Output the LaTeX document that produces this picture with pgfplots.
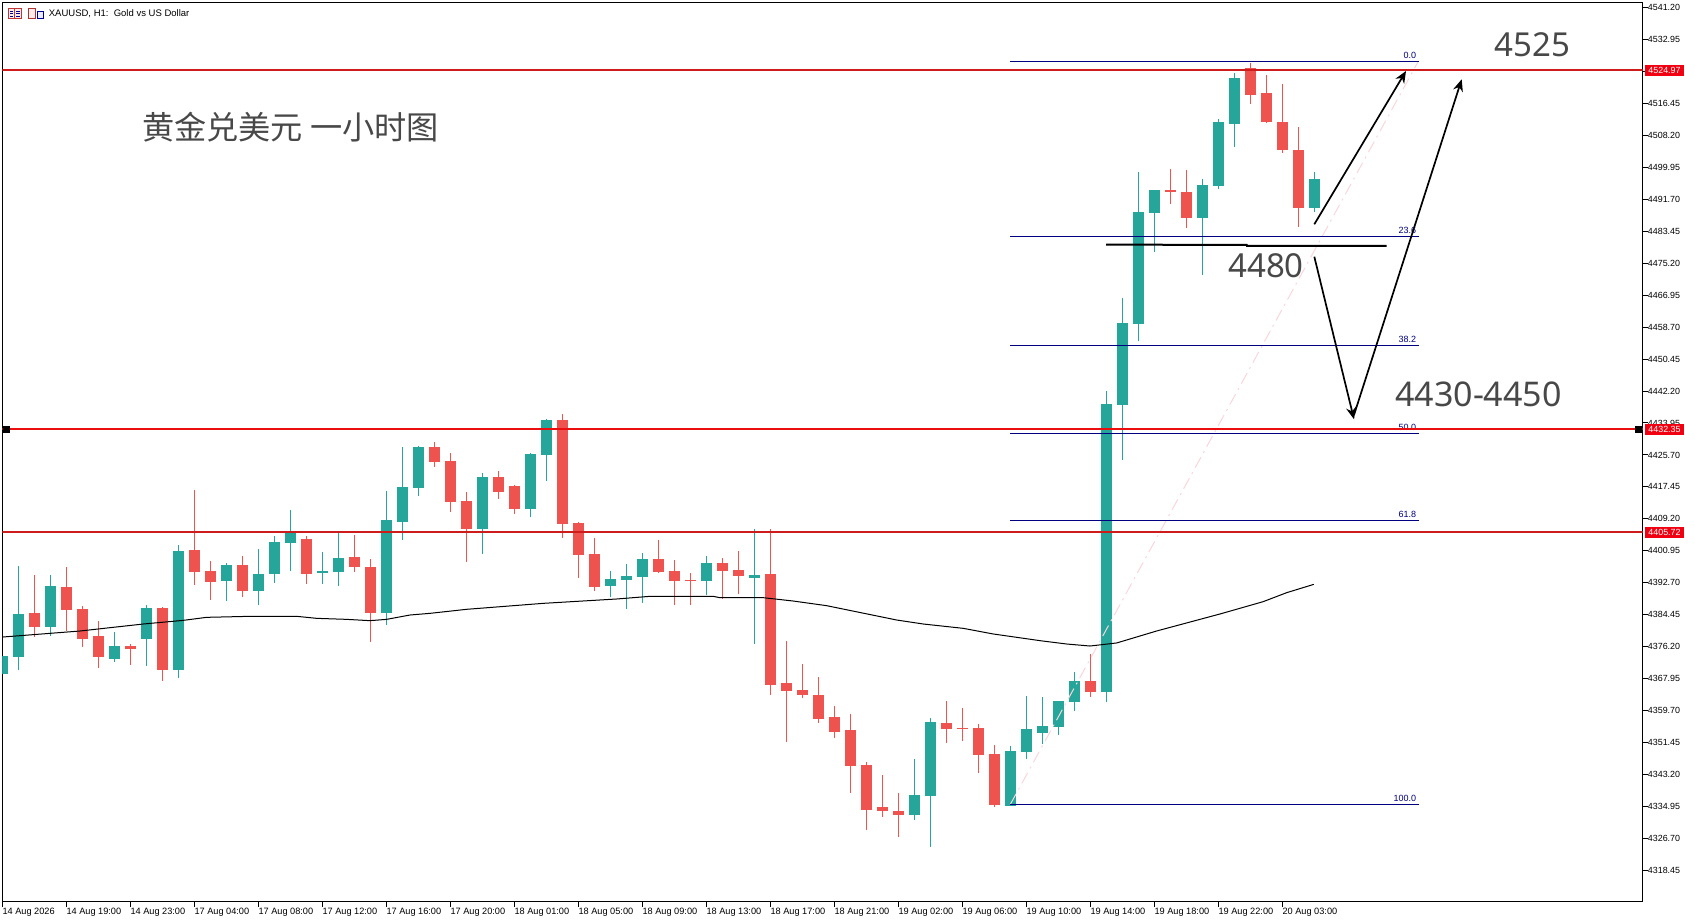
\documentclass[border=0pt]{standalone}
\usepackage{fontspec}
\usepackage{pgfplots}
\usepackage{pgfplotstable}
\pgfplotsset{compat=1.18}
\usetikzlibrary{arrows.meta}
\setmainfont{Liberation Sans}
\newfontfamily\cjk{Noto Sans CJK SC}
\newfontfamily\annot{Noto Sans}
\definecolor{upc}{HTML}{26A69A}
\definecolor{dnc}{HTML}{EF5350}
\definecolor{fibc}{HTML}{000080}
\definecolor{linered}{HTML}{CE1C1C}
\definecolor{linered2}{HTML}{EA0E0E}
\definecolor{boxred}{HTML}{F00010}
\definecolor{annotc}{HTML}{484848}
\definecolor{trendc}{HTML}{F7D6DC}

\pgfplotstableread{
i l bl bh h
0 4369.27 4369.27 4373.83 4373.83
1 4370.22 4373.66 4384.67 4397.05
3 4379.08 4381.40 4391.89 4394.73
7 4372.28 4373.14 4376.41 4379.94
9 4371.25 4378.30 4386.22 4386.99
11 4368.16 4370.31 4400.92 4402.47
14 4388.02 4393.27 4397.31 4397.83
16 4387.00 4390.69 4394.99 4401.44
17 4392.75 4395.07 4403.24 4404.79
18 4395.76 4403.07 4405.82 4411.50
20 4392.41 4395.33 4395.76 4400.66
21 4391.89 4395.59 4399.12 4405.82
24 4381.83 4385.01 4408.92 4416.40
25 4403.76 4408.49 4417.43 4427.75
26 4415.20 4417.18 4427.75 4428.01
30 4400.15 4406.68 4420.01 4420.96
33 4409.61 4411.84 4425.95 4426.21
34 4418.98 4425.78 4434.72 4434.98
38 4389.05 4391.98 4393.70 4395.76
39 4385.96 4393.53 4394.47 4397.57
40 4387.51 4394.30 4398.86 4400.41
44 4389.57 4393.27 4397.83 4399.63
47 4376.93 4394.04 4394.73 4406.60
57 4331.52 4332.81 4337.97 4347.26
58 4324.55 4337.71 4356.80 4357.83
63 4335.22 4335.22 4349.32 4350.61
64 4347.26 4349.06 4355.00 4363.51
65 4351.13 4353.97 4355.77 4363.25
66 4353.45 4355.51 4362.22 4362.22
67 4359.64 4361.96 4367.38 4369.70
69 4361.96 4364.54 4438.85 4442.20
70 4424.40 4438.68 4459.75 4466.20
71 4455.02 4459.58 4488.39 4498.71
72 4478.06 4488.21 4494.06 4494.06
75 4472.13 4486.84 4495.35 4496.90
76 4494.32 4495.09 4511.60 4512.37
77 4505.15 4511.09 4522.96 4524.25
82 4488.39 4489.42 4496.90 4498.71
}\upcandles

\pgfplotstableread{
i l bl bh h
2 4378.82 4381.40 4384.84 4394.73
4 4380.28 4385.79 4391.63 4396.79
5 4376.24 4378.30 4385.96 4386.73
6 4370.74 4373.66 4379.00 4382.86
8 4371.51 4375.64 4376.41 4376.93
10 4367.38 4370.31 4386.22 4386.56
12 4392.15 4395.59 4401.18 4416.66
13 4388.28 4393.01 4395.76 4398.26
15 4389.05 4390.69 4397.31 4399.63
19 4392.41 4395.07 4404.02 4404.79
22 4395.59 4396.88 4399.37 4405.05
23 4377.44 4385.01 4396.79 4398.86
27 4422.68 4423.97 4427.75 4429.04
28 4410.98 4413.65 4424.14 4426.21
29 4398.08 4406.68 4413.82 4416.06
31 4414.34 4416.23 4420.01 4421.56
32 4410.47 4411.84 4417.69 4417.95
35 4404.28 4407.97 4434.72 4436.27
36 4393.96 4399.98 4408.15 4408.41
37 4390.60 4391.72 4400.15 4404.28
41 4395.25 4395.50 4398.86 4403.76
42 4386.99 4393.27 4395.76 4398.60
43 4386.99 4393.27 4393.44 4395.25
45 4388.54 4395.85 4397.83 4399.12
46 4389.83 4394.56 4396.02 4400.92
48 4363.86 4366.44 4394.99 4406.60
49 4351.64 4364.89 4366.87 4377.62
50 4362.99 4363.77 4365.06 4371.77
51 4356.55 4357.58 4363.77 4368.41
52 4352.68 4354.23 4358.09 4360.93
53 4338.49 4345.45 4354.74 4358.87
54 4328.94 4334.10 4345.71 4346.48
55 4332.29 4333.84 4334.87 4343.13
56 4327.13 4332.81 4333.84 4338.49
59 4351.47 4355.00 4356.55 4362.22
60 4351.90 4355.08 4355.26 4360.42
61 4343.65 4348.29 4355.26 4356.29
62 4334.87 4335.39 4348.55 4350.87
68 4363.25 4364.54 4367.38 4374.35
73 4490.45 4493.63 4493.97 4499.48
74 4484.26 4486.84 4493.55 4499.22
78 4516.25 4518.57 4525.54 4526.83
79 4511.34 4511.60 4519.09 4523.73
80 4503.61 4504.38 4511.60 4521.41
81 4484.52 4489.42 4504.38 4510.33
}\downcandles

\pgfplotstableread{
x y
0.02 4378.73
4.85 4380.28
8.81 4382.09
11.31 4383.03
12.77 4383.81
15.48 4384.07
18.40 4384.07
19.65 4383.55
21.52 4383.29
22.98 4382.95
24.02 4383.29
25.48 4384.41
26.73 4384.84
29.02 4385.88
33.81 4387.42
38.39 4388.54
40.48 4389.23
44.43 4389.23
44.85 4388.88
47.56 4388.88
49.43 4388.02
51.52 4386.82
55.90 4383.12
57.56 4382.09
60.06 4380.97
61.94 4379.51
64.86 4377.79
66.52 4376.93
67.98 4376.41
69.65 4377.20
72.14 4380.28
76.10 4384.67
78.80 4387.85
80.27 4390.17
81.97 4392.32
}\matable

\newcommand{\candles}[2]{%
  \addplot[forget plot, draw=none, no markers, error bars/.cd, y dir=plus, y explicit, error mark=none,
    error bar style={line width=1pt, color=#2, solid}]
    table[x=i, y=l, y error plus expr=\thisrow{h}-\thisrow{l}] {#1};
  \addplot[forget plot, draw=none, no markers, error bars/.cd, y dir=plus, y explicit, error mark=none,
    error bar style={line width=11pt, color=#2, solid}]
    table[x=i, y=bl, y error plus expr=\thisrow{bh}-\thisrow{bl}] {#1};
}
\newcommand{\fiblabel}[2]{\node[anchor=south east, inner sep=0pt, text=fibc, font=\fontsize{9}{10}\selectfont] at (axis cs:88.38,#1) [yshift=3pt] {#2};}

\begin{document}
\begin{tikzpicture}
\path[use as bounding box] (-2.3pt,-21pt) rectangle (1692.7pt,902pt);
\begin{axis}[
  at={(0pt,0pt)}, anchor=south west,
  scale only axis, width=1640.4pt, height=899.7pt,
  xmin=0, xmax=102.525, ymin=4310.37, ymax=4542.49,
  axis line style={line width=1pt, black},
  tick style={line width=1pt, black},
  tick align=outside, major tick length=5pt,
  xtick pos=bottom, ytick pos=right,
  yticklabel pos=right,
  ytick={4318.45,4326.70,4334.95,4343.20,4351.45,4359.70,4367.95,4376.20,4384.45,4392.70,4400.95,4409.20,4417.45,4425.70,4433.95,4442.20,4450.45,4458.70,4466.95,4475.20,4483.45,4491.70,4499.95,4508.20,4516.45,4524.70,4532.95,4541.20},
  xtick={0,4,...,80},
  xticklabels={14 Aug 2026,14 Aug 19:00,14 Aug 23:00,17 Aug 04:00,17 Aug 08:00,17 Aug 12:00,17 Aug 16:00,17 Aug 20:00,18 Aug 01:00,18 Aug 05:00,18 Aug 09:00,18 Aug 13:00,18 Aug 17:00,18 Aug 21:00,19 Aug 02:00,19 Aug 06:00,19 Aug 10:00,19 Aug 14:00,19 Aug 18:00,19 Aug 22:00,20 Aug 03:00},
  yticklabel style={font=\fontsize{8.9}{10}\selectfont, anchor=west, inner sep=0pt, xshift=0pt,
    /pgf/number format/.cd, fixed, fixed zerofill, precision=2, 1000 sep={}, assume math mode=true},
  xticklabel style={font=\fontsize{9.2}{10}\selectfont, anchor=north west, inner sep=0pt, yshift=-1pt},
  clip=true,
]
\candles{\upcandles}{upc}
\candles{\downcandles}{dnc}
\addplot[forget plot, black, line width=1pt] table[x=x,y=y] {\matable};
\addplot[forget plot, trendc, line width=1pt, dash pattern=on 12pt off 5pt on 2pt off 5pt] coordinates {(63,4335.56) (88.5,4527.26)};
\addplot[forget plot, fibc, line width=1pt] coordinates {(63,4527.26) (88.54,4527.26)};
\addplot[forget plot, fibc, line width=1pt] coordinates {(63,4482.11) (88.54,4482.11)};
\addplot[forget plot, fibc, line width=1pt] coordinates {(63,4453.98) (88.54,4453.98)};
\addplot[forget plot, fibc, line width=1pt] coordinates {(63,4431.28) (88.54,4431.28)};
\addplot[forget plot, fibc, line width=1pt] coordinates {(63,4408.83) (88.54,4408.83)};
\addplot[forget plot, fibc, line width=1pt] coordinates {(63,4335.56) (88.54,4335.56)};
\fiblabel{4527.26}{0.0}
\fiblabel{4482.11}{23.6}
\fiblabel{4453.98}{38.2}
\fiblabel{4431.28}{50.0}
\fiblabel{4408.83}{61.8}
\fiblabel{4335.56}{100.0}
\addplot[forget plot, linered, line width=2pt] coordinates {(0,4524.97) (102.525,4524.97)};
\addplot[forget plot, linered2, line width=2pt] coordinates {(0,4432.35) (102.525,4432.35)};
\addplot[forget plot, linered, line width=2pt] coordinates {(0,4405.72) (102.525,4405.72)};
\addplot[forget plot, only marks, mark=square*, mark size=3pt, mark options={fill=black, draw=black}] coordinates {(0.23,4432.35) (102.23,4432.35)};
\end{axis}
\begin{scope}[x=1pt, y=-1pt, shift={(-2.3pt,902pt)}]
  % annotation arrows and lines, in reference pixels
  \draw[black, line width=1.7pt, -{Stealth[length=12pt, width=10pt]}] (1314.3,224.3) -- (1406,71);
  \draw[black, line width=1.7pt, -{Stealth[length=12pt, width=10pt]}] (1314.3,256.7) -- (1354,419.3);
  \draw[black, line width=1.7pt, -{Stealth[length=12pt, width=10pt]}] (1354,415) -- (1461.7,79.3);
  \draw[black, line width=2pt] (1106,244.6) -- (1246.7,245) -- (1247,246) -- (1386.7,246);
  % big texts
  \node[anchor=west, inner sep=0pt, text=annotc, font=\cjk\fontsize{32.2}{36}\selectfont] at (141.8,127.6) {黄金兑美元 一小时图};
  \node[inner sep=0pt, text=annotc, font=\annot\fontsize{33}{36}\selectfont] at (1532.5,45) {4525};
  \node[inner sep=0pt, text=annotc, font=\annot\fontsize{33}{36}\selectfont] at (1266,266) {4480};
  \node[inner sep=0pt, text=annotc, font=\annot\fontsize{34}{36}\selectfont] at (1478.5,394) {4430-4450};
  % price tags
  \foreach \yy/\lab in {70.2/4524.97, 429.2/4432.35, 532.4/4405.72}{
    \fill[boxred] (1645,\yy-5.6) rectangle (1684,\yy+5.6);
    \node[inner sep=0pt, text=white, font=\fontsize{8.9}{10}\selectfont] at (1664.5,\yy) {\lab};
  }
  % header
  \node[anchor=west, inner sep=0pt, font=\fontsize{9.5}{11}\selectfont] at (48.7,13.3) {XAUUSD, H1:\ \ Gold vs US Dollar};
  \draw[red!70!black!80, line width=0.8pt, fill=red!8] (8,8) rectangle (21.5,18);
  \draw[red!70!black!80, line width=0.8pt] (14.5,8) -- (14.5,18);
  \draw[blue!60!black, line width=0.8pt] (10,11) -- (13,11) (10,13.5) -- (13,13.5) (10,16) -- (13,16) (16,11) -- (20,11) (16,13.5) -- (20,13.5) (16,16) -- (20,16);
  \draw[red!60!black!80, line width=0.8pt, fill=red!8] (28.5,8) rectangle (35,18);
  \draw[blue!60!black, line width=0.8pt, fill=blue!8] (37,11) rectangle (43,18);
\end{scope}
\end{tikzpicture}
\end{document}
